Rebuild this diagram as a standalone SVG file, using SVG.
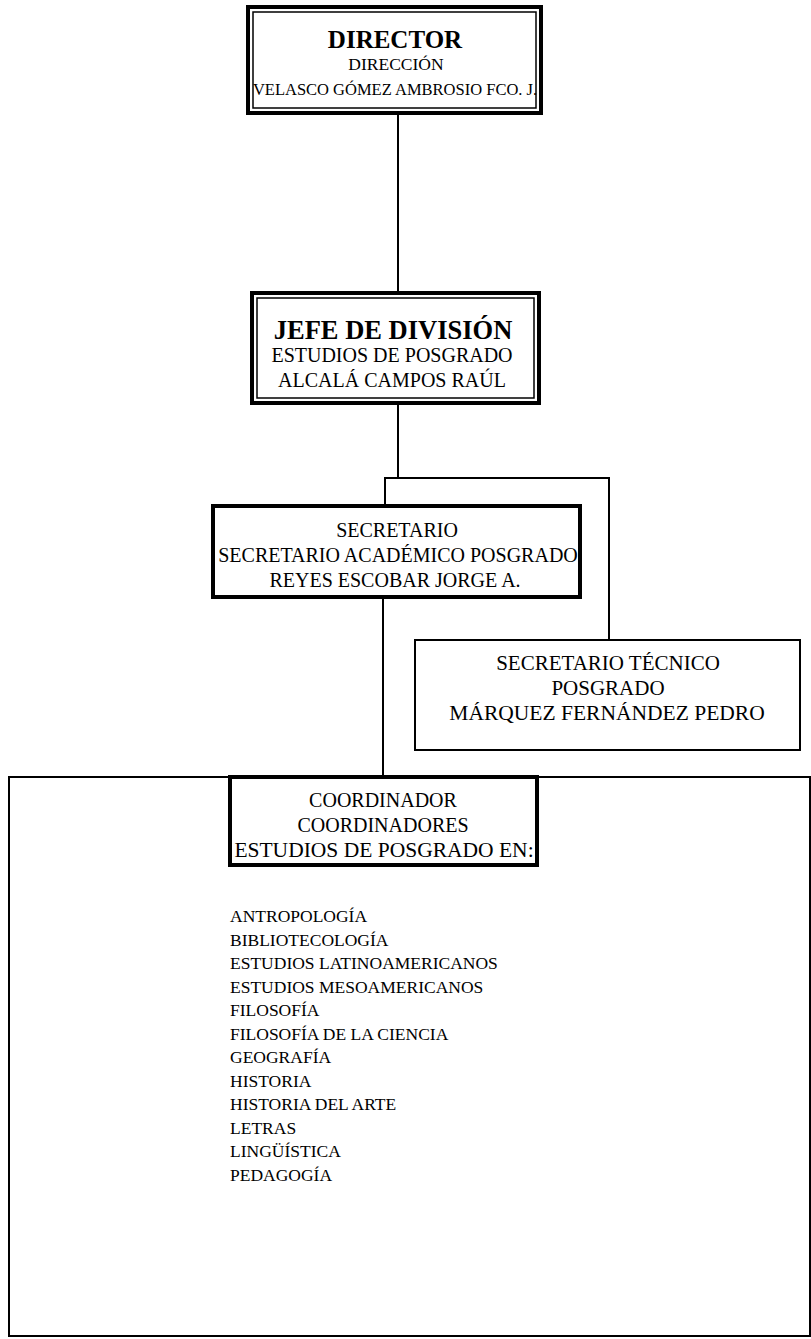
<svg xmlns="http://www.w3.org/2000/svg" width="811" height="1339" viewBox="0 0 811 1339">
<style>
text{font-family:"Liberation Serif","Times New Roman",serif;fill:#000;text-anchor:middle;font-size:20px}
.b{font-weight:bold;font-size:25px}
.d{font-size:16.5px}
.l{text-anchor:start;font-size:17.5px}
.thick{fill:#fff;stroke:#000;stroke-width:4}
.thin{fill:none;stroke:#000;stroke-width:1.5}
.conn{stroke:#000;stroke-width:2;fill:none}
</style>
<rect width="811" height="1339" fill="#fff"/>
<g id="frame">
<rect x="9" y="777" width="801" height="559" class="conn"/>
</g>
<g id="connectors">
<line x1="398" y1="113" x2="398" y2="293" class="conn"/>
<line x1="398" y1="403" x2="398" y2="478" class="conn"/>
<polyline points="385,506 385,478 609,478 609,640" class="conn"/>
<line x1="383" y1="597" x2="383" y2="777" class="conn"/>
</g>
<g id="director">
<rect x="248" y="7" width="293" height="106" class="thick"/>
<rect x="253" y="12" width="283" height="96" class="thin"/>
<text x="395" y="48" class="b">DIRECTOR</text>
<text x="396" y="70" style="font-size:17.5px">DIRECCIÓN</text>
<text x="395" y="95" class="d">VELASCO GÓMEZ AMBROSIO FCO. J.</text>
</g>
<g id="jefe">
<rect x="252" y="293" width="287" height="110" class="thick"/>
<rect x="257" y="298" width="277" height="100" class="thin"/>
<text x="393" y="339" class="b" style="font-size:26.5px">JEFE DE DIVISIÓN</text>
<text x="392" y="362">ESTUDIOS DE POSGRADO</text>
<text x="392" y="387">ALCALÁ CAMPOS RAÚL</text>
</g>
<g id="secretario">
<rect x="213" y="506" width="367" height="91" class="thick"/>
<text x="397" y="537">SECRETARIO</text>
<text x="398" y="562">SECRETARIO ACADÉMICO POSGRADO</text>
<text x="395" y="587">REYES ESCOBAR JORGE A.</text>
</g>
<g id="tecnico">
<rect x="415" y="640" width="385" height="110" fill="#fff" stroke="#000" stroke-width="2"/>
<text x="608" y="670" style="font-size:21px">SECRETARIO TÉCNICO</text>
<text x="608" y="695" style="font-size:21px">POSGRADO</text>
<text x="607" y="720" style="font-size:21.5px">MÁRQUEZ FERNÁNDEZ PEDRO</text>
</g>
<g id="coordinador">
<rect x="230" y="777" width="307" height="88" class="thick"/>
<text x="383" y="807">COORDINADOR</text>
<text x="383" y="832">COORDINADORES</text>
<text x="384" y="857" style="font-size:21.5px">ESTUDIOS DE POSGRADO EN:</text>
</g>
<g id="programas">
<text x="230" y="922" class="l">ANTROPOLOGÍA</text>
<text x="230" y="945.5" class="l">BIBLIOTECOLOGÍA</text>
<text x="230" y="969" class="l">ESTUDIOS LATINOAMERICANOS</text>
<text x="230" y="992.5" class="l">ESTUDIOS MESOAMERICANOS</text>
<text x="230" y="1016" class="l">FILOSOFÍA</text>
<text x="230" y="1039.5" class="l">FILOSOFÍA DE LA CIENCIA</text>
<text x="230" y="1063" class="l">GEOGRAFÍA</text>
<text x="230" y="1086.5" class="l">HISTORIA</text>
<text x="230" y="1110" class="l">HISTORIA DEL ARTE</text>
<text x="230" y="1133.5" class="l">LETRAS</text>
<text x="230" y="1157" class="l">LINGÜÍSTICA</text>
<text x="230" y="1180.5" class="l">PEDAGOGÍA</text>
</g>
</svg>
